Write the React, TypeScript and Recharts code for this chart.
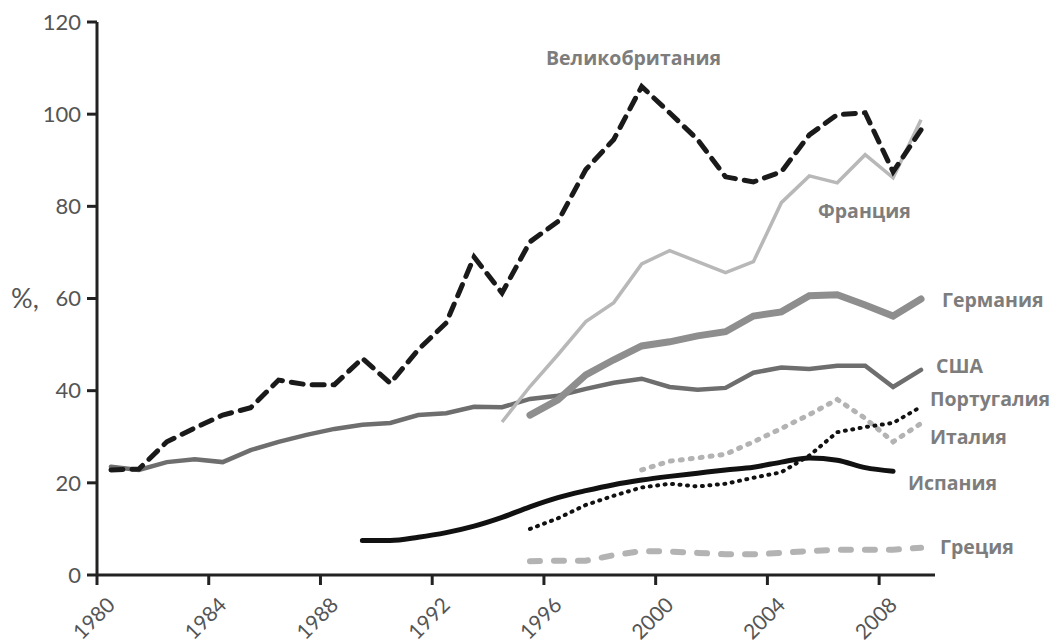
import React from 'react';
import { LineChart, Line, XAxis, YAxis, Text } from 'recharts';

const years = [1980, 1981, 1982, 1983, 1984, 1985, 1986, 1987, 1988, 1989, 1990, 1991, 1992, 1993, 1994, 1995, 1996, 1997, 1998, 1999, 2000, 2001, 2002, 2003, 2004, 2005, 2006, 2007, 2008, 2009];

const uk = [22.8, 23.0, 28.9, 31.9, 34.7, 36.3, 42.3, 41.3, 41.3, 47.0, 41.6, 48.9, 54.7, 69.0, 61.2, 72.3, 76.7, 88.0, 94.5, 106.0, 100.3, 94.5, 86.4, 85.3, 87.5, 95.5, 99.9, 100.3, 87.5, 96.6];
const usa = [23.5, 22.8, 24.5, 25.1, 24.5, 27.1, 28.9, 30.4, 31.7, 32.6, 33.0, 34.7, 35.1, 36.5, 36.4, 38.2, 38.9, 40.4, 41.7, 42.6, 40.8, 40.2, 40.6, 43.9, 45.0, 44.7, 45.4, 45.4, 40.8, 44.5];
const france = [null, null, null, null, null, null, null, null, null, null, null, null, null, null, 33.2, 40.9, 47.8, 55.0, 59.1, 67.5, 70.4, 68.0, 65.6, 68.0, 80.8, 86.6, 85.1, 91.2, 86.2, 98.8];
const germany = [null, null, null, null, null, null, null, null, null, null, null, null, null, null, null, 34.7, 38.0, 43.4, 46.7, 49.7, 50.6, 51.9, 52.8, 56.2, 57.1, 60.6, 60.8, 58.6, 56.2, 59.9];
const spain = [null, null, null, null, null, null, null, null, null, 7.5, 7.5, 8.2, 9.2, 10.6, 12.5, 14.8, 16.8, 18.3, 19.6, 20.6, 21.4, 22.1, 22.8, 23.4, 24.5, 25.4, 24.9, 23.3, 22.5, null];
const portugal = [null, null, null, null, null, null, null, null, null, null, null, null, null, null, null, 10.0, 12.3, 15.2, 17.2, 19.0, 19.8, 19.2, 19.8, 21.1, 22.3, 25.9, 31.0, 32.1, 33.0, 36.5];
const italy = [null, null, null, null, null, null, null, null, null, null, null, null, null, null, null, null, null, null, null, 22.8, 24.7, 25.4, 26.2, 28.9, 31.8, 34.8, 38.1, 34.0, 28.9, 32.9];
const greece = [null, null, null, null, null, null, null, null, null, null, null, null, null, null, null, 3.0, 3.1, 3.1, 4.3, 5.2, 5.1, 4.8, 4.5, 4.5, 4.8, 5.2, 5.5, 5.5, 5.5, 5.9];

const xTicks = [1980, 1984, 1988, 1992, 1996, 2000, 2004, 2008];
const yTicks = [0, 20, 40, 60, 80, 100, 120];

const data = years.map((y, i) => ({
    t: y + 0.5,
    uk: uk[i],
    usa: usa[i],
    france: france[i],
    germany: germany[i],
    spain: spain[i],
    portugal: portugal[i],
    italy: italy[i],
    greece: greece[i],
}));

const labels = [
    { text: 'Великобритания', left: 546, top: 44 },
    { text: 'Франция', left: 818, top: 197 },
    { text: 'Германия', left: 942, top: 286 },
    { text: 'США', left: 936, top: 352 },
    { text: 'Португалия', left: 930, top: 385 },
    { text: 'Италия', left: 930, top: 423 },
    { text: 'Испания', left: 908, top: 469 },
    { text: 'Греция', left: 940, top: 533 },
];

const tickFont = { fontFamily: 'Lato', fontSize: 22, fill: '#555' };

// rotated year labels under the x axis
const XTick = (props: any) => {
    const { x, payload } = props;
    return (
        <Text x={x + 14} y={601} angle={-45} textAnchor="end" verticalAnchor="middle"
            fontFamily="Lato" fontSize={21} fill="#555">
            {String(payload.value)}
        </Text>
    );
};

const App: React.FC = () => {
    return (
        <div style={{ position: 'absolute', left: 0, top: 0, width: 1050, height: 642, background: '#fff' }}>
            <LineChart width={1050} height={642} data={data}
                margin={{ top: 22, right: 115, bottom: 0, left: 0 }}>
                <XAxis dataKey="t" type="number" domain={[1980, 2010]} ticks={xTicks} interval={0}
                    height={67} tickSize={10} tick={<XTick />}
                    axisLine={{ stroke: '#222', strokeWidth: 3 }}
                    tickLine={{ stroke: '#222', strokeWidth: 3 }} />
                <YAxis type="number" domain={[0, 120]} ticks={yTicks} interval={0} width={97}
                    tickSize={10} tickMargin={6} tick={tickFont}
                    axisLine={{ stroke: '#222', strokeWidth: 3 }}
                    tickLine={{ stroke: '#222', strokeWidth: 3 }} />
                <Line dataKey="greece" stroke="#b3b3b3" strokeWidth={6} strokeDasharray="10 14"
                    strokeLinecap="round" dot={false} activeDot={false} isAnimationActive={false} />
                <Line dataKey="italy" stroke="#b3b3b3" strokeWidth={5} strokeDasharray="2 8"
                    strokeLinecap="round" dot={false} activeDot={false} isAnimationActive={false} />
                <Line dataKey="portugal" stroke="#111" strokeWidth={4} strokeDasharray="1 6.5"
                    strokeLinecap="round" dot={false} activeDot={false} isAnimationActive={false} />
                <Line dataKey="spain" type="monotone" stroke="#111" strokeWidth={5}
                    strokeLinecap="round" dot={false} activeDot={false} isAnimationActive={false} />
                <Line dataKey="usa" stroke="#6e6e6e" strokeWidth={4.5} strokeLinecap="round"
                    dot={false} activeDot={false} isAnimationActive={false} />
                <Line dataKey="germany" stroke="#8e8e8e" strokeWidth={7} strokeLinecap="round"
                    dot={false} activeDot={false} isAnimationActive={false} />
                <Line dataKey="france" stroke="#b8b8b8" strokeWidth={3.5}
                    dot={false} activeDot={false} isAnimationActive={false} />
                <Line dataKey="uk" stroke="#1a1a1a" strokeWidth={5} strokeDasharray="12 9"
                    strokeLinecap="round" dot={false} activeDot={false} isAnimationActive={false} />
            </LineChart>
            <div style={{ position: 'absolute', left: 11, top: 281, fontFamily: 'Lato', fontSize: 27, color: '#555' }}>%,</div>
            {labels.map((l) => (
                <div key={l.text} style={{
                    position: 'absolute', left: l.left, top: l.top, fontFamily: 'Open Sans',
                    fontWeight: 700, fontSize: 19.5, color: '#7d7d7d', whiteSpace: 'nowrap',
                }}>{l.text}</div>
            ))}
        </div>
    );
};

export default App;
